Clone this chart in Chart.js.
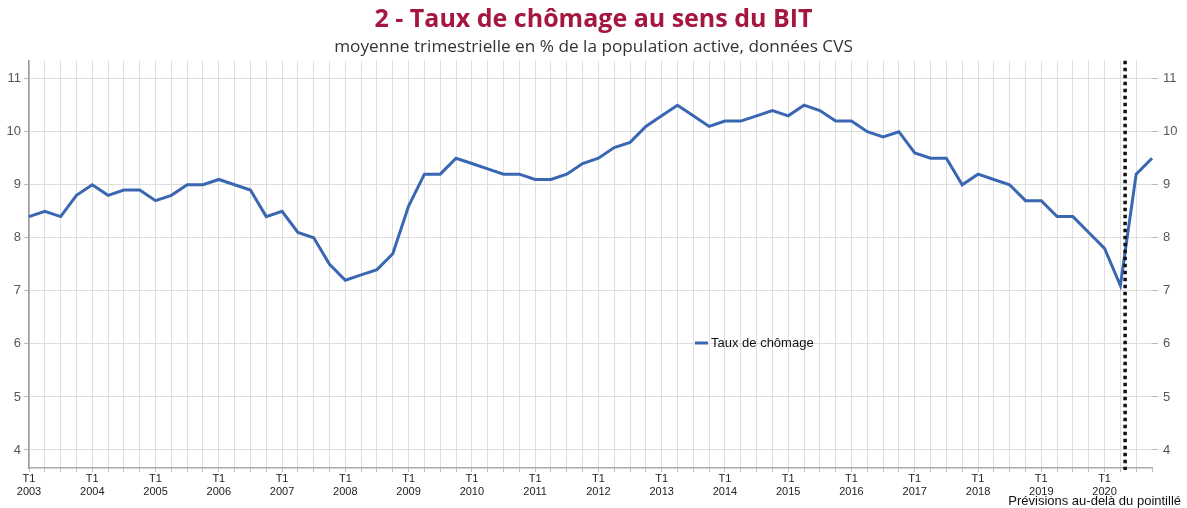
<!DOCTYPE html>
<html>
<head>
<meta charset="utf-8">
<script src="https://cdn.jsdelivr.net/npm/chart.js@4.4.1/dist/chart.umd.min.js"></script>
<style>
  html, body { margin: 0; padding: 0; background: #fff; }
  #wrap { width: 1187px; height: 508px; position: relative; }
</style>
</head>
<body>
<div id="wrap"><canvas id="c" width="1187" height="508"></canvas></div>
<script>
// ---- data ----
const years = ['2003','2004','2005','2006','2007','2008','2009','2010','2011','2012',
               '2013','2014','2015','2016','2017','2018','2019','2020'];
const quarterNames = ['T1','T2','T3','T4'];
const unemploymentRate = [
  8.4, 8.5, 8.4, 8.8,   // 2003
  9.0, 8.8, 8.9, 8.9,   // 2004
  8.7, 8.8, 9.0, 9.0,   // 2005
  9.1, 9.0, 8.9, 8.4,   // 2006
  8.5, 8.1, 8.0, 7.5,   // 2007
  7.2, 7.3, 7.4, 7.7,   // 2008
  8.6, 9.2, 9.2, 9.5,   // 2009
  9.4, 9.3, 9.2, 9.2,   // 2010
  9.1, 9.1, 9.2, 9.4,   // 2011
  9.5, 9.7, 9.8, 10.1,  // 2012
  10.3, 10.5, 10.3, 10.1, // 2013
  10.2, 10.2, 10.3, 10.4, // 2014
  10.3, 10.5, 10.4, 10.2, // 2015
  10.2, 10.0, 9.9, 10.0,  // 2016
  9.6, 9.5, 9.5, 9.0,   // 2017
  9.2, 9.1, 9.0, 8.7,   // 2018
  8.7, 8.4, 8.4, 8.1,   // 2019
  7.8, 7.1, 9.2, 9.5    // 2020
];
const yTickValues = [4, 5, 6, 7, 8, 9, 10, 11];
const forecastBoundary = 69.3; // position (in quarters from 2003 T1) of the dotted line
const seriesLabel = 'Taux de chômage';
const titleText = '2 - Taux de chômage au sens du BIT';
const subtitleText = 'moyenne trimestrielle en % de la population active, données CVS';
const noteText = 'Prévisions au-delà du pointillé';

const categories = years.flatMap(y => quarterNames.map(q => q + ' ' + y));

const LINE_COLOR = '#3a67b1';
const FONT = "'Liberation Sans', Arial, sans-serif";
const HEAD_FONT = "'Open Sans', Lato, 'DejaVu Sans', sans-serif";

const forecastLinePlugin = {
  id: 'forecastLine',
  afterDatasetsDraw(chart) {
    const ctx = chart.ctx, x = chart.scales.x.getPixelForValue(forecastBoundary);
    const a = chart.chartArea;
    ctx.save();
    ctx.strokeStyle = '#111';
    ctx.lineWidth = 3.5;
    ctx.setLineDash([3.5, 3.5]);
    ctx.beginPath();
    ctx.moveTo(x, a.top);
    ctx.lineTo(x, a.bottom + 2);
    ctx.stroke();
    ctx.restore();
  }
};

const innerLegendPlugin = {
  id: 'innerLegend',
  afterDatasetsDraw(chart) {
    const ctx = chart.ctx, a = chart.chartArea;
    const x0 = a.left + 666, y0 = 343;
    ctx.save();
    ctx.strokeStyle = LINE_COLOR;
    ctx.lineWidth = 3;
    ctx.beginPath();
    ctx.moveTo(x0, y0);
    ctx.lineTo(x0 + 13, y0);
    ctx.stroke();
    ctx.fillStyle = '#111';
    ctx.font = '13px ' + FONT;
    ctx.textBaseline = 'middle';
    ctx.textAlign = 'left';
    ctx.fillText(chart.data.datasets[0].label, x0 + 16, y0);
    ctx.restore();
  }
};

const notePlugin = {
  id: 'note',
  afterDraw(chart) {
    const ctx = chart.ctx;
    ctx.save();
    ctx.fillStyle = '#111';
    ctx.font = '13px ' + FONT;
    ctx.textBaseline = 'middle';
    ctx.textAlign = 'right';
    ctx.fillText(noteText, chart.width - 6, 501);
    ctx.restore();
  }
};

const setYTicks = scale => { scale.ticks = yTickValues.map(v => ({ value: v })); };

new Chart(document.getElementById('c'), {
  type: 'line',
  data: {
    labels: categories,
    datasets: [{
      label: seriesLabel,
      data: unemploymentRate,
      borderColor: LINE_COLOR,
      backgroundColor: LINE_COLOR,
      borderWidth: 3,
      pointRadius: 0,
      tension: 0,
      fill: false
    }]
  },
  options: {
    responsive: false,
    animation: false,
    devicePixelRatio: 1,
    layout: { padding: { top: 0, left: 0, right: 0, bottom: 0 } },
    plugins: {
      legend: { display: false },
      tooltip: { enabled: false },
      title: {
        display: true,
        text: titleText,
        color: '#a5173f',
        font: { family: HEAD_FONT, size: 25, weight: 'bold', lineHeight: 1.2 },
        padding: { top: 5, bottom: 0 }
      },
      subtitle: {
        display: true,
        text: subtitleText,
        color: '#333',
        font: { family: HEAD_FONT, size: 17.2, weight: 'normal', lineHeight: 1.2 },
        padding: { top: 2, bottom: 3 }
      }
    },
    scales: {
      x: {
        type: 'category',
        offset: false,
        afterFit(scale) { scale.height = 40; },
        border: { display: true, color: '#aaa', width: 1.5 },
        grid: {
          display: true,
          drawOnChartArea: true,
          drawTicks: true,
          tickLength: 4,
          color: ctx => (ctx.index === categories.length - 1 ? 'rgba(0,0,0,0)' : '#dedede'),
          tickColor: '#bbb',
          lineWidth: 1
        },
        ticks: {
          autoSkip: false,
          maxRotation: 0,
          minRotation: 0,
          padding: 1,
          color: '#222',
          font: { family: FONT, size: 11, lineHeight: 1.15 },
          callback(value, index) {
            if (index % 4 !== 0) return '';
            return [quarterNames[0], years[index / 4]];
          }
        }
      },
      y: {
        position: 'left',
        min: 3.66,
        max: 11.34,
        afterBuildTicks: setYTicks,
        afterFit(scale) { scale.width = 29; },
        border: { display: true, color: '#9a9a9a', width: 1.5 },
        grid: { color: '#dedede', lineWidth: 1, tickLength: 5, tickColor: '#bbb' },
        ticks: { color: '#555', padding: 3, font: { family: FONT, size: 13 } }
      },
      y2: {
        position: 'right',
        min: 3.66,
        max: 11.34,
        afterBuildTicks: setYTicks,
        afterFit(scale) { scale.width = 35; },
        border: { display: false },
        grid: { drawOnChartArea: false, tickLength: 6, tickColor: '#bbb' },
        ticks: { color: '#555', padding: 5, font: { family: FONT, size: 13 } }
      }
    }
  },
  plugins: [forecastLinePlugin, innerLegendPlugin, notePlugin]
});
</script>
</body>
</html>
